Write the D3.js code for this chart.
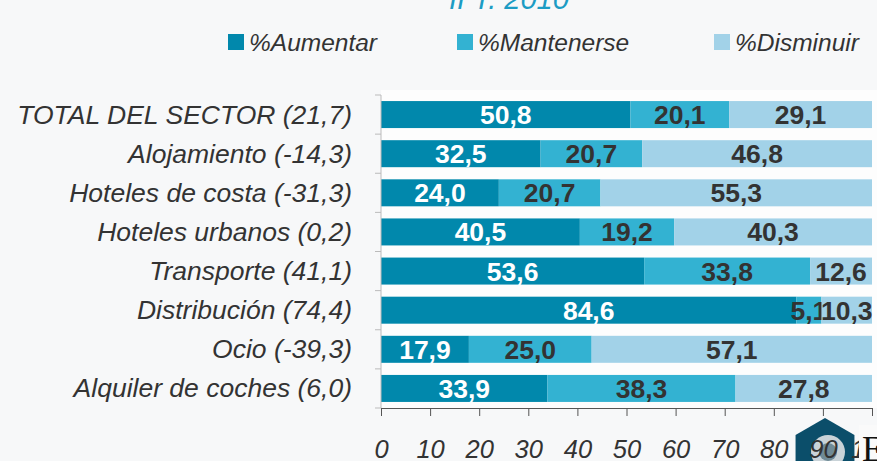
<!DOCTYPE html>
<html>
<head>
<meta charset="utf-8" />
<title>Expectativas II T. 2010</title>
<style>
body{ margin:0; background:#f7f8f9; font-family:"Liberation Sans", Arial, sans-serif; }
</style>
<script src="https://cdn.jsdelivr.net/npm/d3@7"></script>
</head>
<body>
<div id="chart"></div>
<script>
// datos
var categorias = ["TOTAL DEL SECTOR (21,7)", "Alojamiento (-14,3)", "Hoteles de costa (-31,3)",
                  "Hoteles urbanos (0,2)", "Transporte (41,1)", "Distribución (74,4)",
                  "Ocio (-39,3)", "Alquiler de coches (6,0)"];
var series = ["%Aumentar", "%Mantenerse", "%Disminuir"];
var aumentar   = [50.8, 32.5, 24.0, 40.5, 53.6, 84.6, 17.9, 33.9];
var mantenerse = [20.1, 20.7, 20.7, 19.2, 33.8, 5.1, 25.0, 38.3];
var disminuir  = [29.1, 46.8, 55.3, 40.3, 12.6, 10.3, 57.1, 27.8];
var ticks = [0, 10, 20, 30, 40, 50, 60, 70, 80, 90, 100];
var titulo = "II T. 2010";

var colores = ["#0188ac", "#33b2d2", "#a2d2e8"];
var colorTexto = ["#ffffff", "#333333", "#333333"];

var W = 877, H = 461;
var svg = d3.select("#chart").append("svg").attr("width", W).attr("height", H);

svg.append("rect").attr("width", W).attr("height", H).attr("fill", "#f7f8f9");
// zona clara del grafico
svg.append("rect").attr("x", 381).attr("y", 90).attr("width", 496).attr("height", 318).attr("fill", "#fdfdfd");

var tabla = categorias.map(function(c, i){
	return {cat:c, "%Aumentar":aumentar[i], "%Mantenerse":mantenerse[i], "%Disminuir":disminuir[i]};
});
var pilas = d3.stack().keys(series)(tabla);

var x = d3.scaleLinear().domain([0, 100]).range([381, 872]);
var y = d3.scaleBand().domain(categorias).range([95, 408]).paddingInner(0.31).paddingOuter(0.155);

// titulo (cortado arriba)
svg.append("text").attr("x", 449).attr("y", 9)
	.attr("font-size", 29).attr("font-style", "italic").attr("fill", "#1c9cc4")
	.text(titulo);

// leyenda
var legX = [228, 457, 714];
series.forEach(function(s, i){
	svg.append("rect").attr("x", legX[i]).attr("y", 34).attr("width", 16).attr("height", 16).attr("fill", colores[i]);
	svg.append("text").attr("x", legX[i] + 21).attr("y", 51)
		.attr("font-size", 24.5).attr("font-style", "italic").attr("fill", "#333")
		.text(s);
});

// barras
pilas.forEach(function(p, k){
	var g = svg.append("g");
	g.selectAll("rect").data(p).enter().append("rect")
		.attr("x", function(d){ return x(d[0]); })
		.attr("y", function(d){ return y(d.data.cat); })
		.attr("width", function(d){ return x(d[1]) - x(d[0]); })
		.attr("height", y.bandwidth())
		.attr("fill", colores[k]);
	g.selectAll("text").data(p).enter().append("text")
		.attr("x", function(d){ return x((d[0] + d[1]) / 2); })
		.attr("y", function(d){ return y(d.data.cat) + y.bandwidth() / 2 + 9.5; })
		.attr("text-anchor", "middle")
		.attr("font-size", 26.5).attr("font-weight", "bold")
		.attr("fill", colorTexto[k])
		.text(function(d){ return (d[1] - d[0]).toFixed(1).replace(".", ","); });
});

// eje y
var ejeY = svg.append("g").attr("transform", "translate(381,0)");
ejeY.append("line").attr("y1", 95).attr("y2", 408).attr("stroke", "#bbb");
ejeY.selectAll("line.t").data(d3.range(categorias.length + 1)).enter().append("line")
	.attr("x1", -6).attr("x2", 0)
	.attr("y1", function(i){ return 95 + i * y.step(); })
	.attr("y2", function(i){ return 95 + i * y.step(); })
	.attr("stroke", "#bbb");
svg.selectAll("text.cat").data(categorias).enter().append("text")
	.attr("x", 352)
	.attr("y", function(d){ return y(d) + y.bandwidth() / 2 + 9; })
	.attr("text-anchor", "end")
	.attr("font-size", 26.5).attr("font-style", "italic").attr("fill", "#333")
	.text(function(d){ return d; });

// logo abajo a la derecha
var logo = svg.append("g");
var hex = d3.range(6).map(function(i){
	var a = Math.PI / 3 * i - Math.PI / 2;
	return [825 + 34 * Math.cos(a), 452 + 34 * Math.sin(a)];
});
logo.append("path").attr("d", "M" + hex.join("L") + "Z").attr("fill", "#0b4e6a");
logo.append("circle").attr("cx", 828).attr("cy", 452).attr("r", 17).attr("fill", "#c9d3d8");
logo.append("circle").attr("cx", 828).attr("cy", 452).attr("r", 9).attr("fill", "#6f8a96");

// eje x
var ejeX = svg.append("g").attr("transform", "translate(0,408)")
	.call(d3.axisBottom(x).tickValues(ticks).tickSize(8).tickPadding(24).tickSizeOuter(0));
ejeX.select(".domain").attr("stroke", "#555");
ejeX.selectAll(".tick line").attr("stroke", "#555");
ejeX.selectAll(".tick text")
	.attr("font-size", 25.5).attr("font-style", "italic").attr("fill", "#333")
	.attr("font-family", "Liberation Sans, Arial, sans-serif");

svg.append("rect").attr("x", 859).attr("y", 425).attr("width", 18).attr("height", 36).attr("fill", "#fafafa");
svg.append("text").attr("x", 862).attr("y", 461).attr("font-size", 36)
	.attr("font-family", "Liberation Serif, serif").attr("fill", "#111").text("E");
</script>
</body>
</html>
